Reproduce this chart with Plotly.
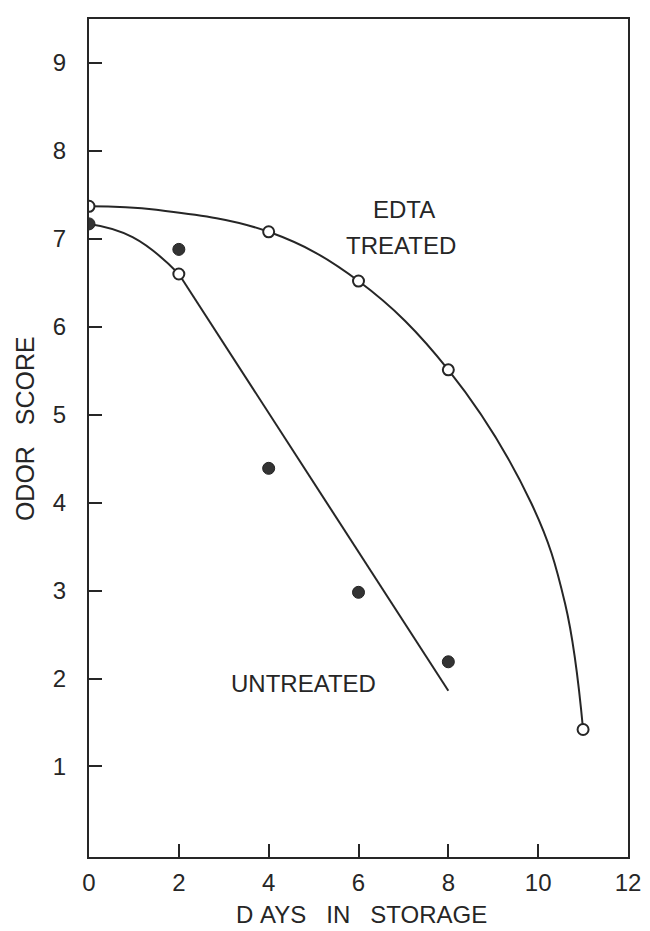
import plotly.graph_objects as go

# ---- data ----
days_points = [0, 2, 4, 6, 8]
untreated_scores = [7.17, 6.88, 4.39, 2.98, 2.19]

edta_days = [0, 2, 4, 6, 8, 11]
edta_scores = [7.37, 6.60, 7.08, 6.52, 5.51, 1.42]

# hand-drawn fitted curves (control points)
edta_curve_days = [0, 1.5, 4, 6, 8, 9.85, 10.6, 11]
edta_curve_scores = [7.37, 7.33, 7.08, 6.52, 5.51, 3.99, 2.85, 1.42]

untreated_curve_days = [0, 0.97, 2]
untreated_curve_scores = [7.17, 7.02, 6.60]
untreated_line_days = [2, 8]
untreated_line_scores = [6.60, 1.86]

x_ticks = [0, 2, 4, 6, 8, 10, 12]
y_ticks = [1, 2, 3, 4, 5, 6, 7, 8, 9]

INK = "#262626"
FONT = "Liberation Sans"

fig = go.Figure()

fig.add_trace(go.Scatter(x=edta_curve_days, y=edta_curve_scores, mode="lines",
                         line=dict(color=INK, width=2, shape="spline", smoothing=1.1),
                         showlegend=False, hoverinfo="skip"))
fig.add_trace(go.Scatter(x=untreated_curve_days, y=untreated_curve_scores, mode="lines",
                         line=dict(color=INK, width=2, shape="spline", smoothing=1.3),
                         showlegend=False, hoverinfo="skip"))
fig.add_trace(go.Scatter(x=untreated_line_days, y=untreated_line_scores, mode="lines",
                         line=dict(color=INK, width=2),
                         showlegend=False, hoverinfo="skip"))

fig.add_trace(go.Scatter(x=days_points, y=untreated_scores, mode="markers",
                         marker=dict(size=12, color="#333333", line=dict(color="#222222", width=1)),
                         name="Untreated", showlegend=False))
fig.add_trace(go.Scatter(x=edta_days, y=edta_scores, mode="markers",
                         marker=dict(size=11, color="white", line=dict(color=INK, width=2)),
                         name="EDTA treated", showlegend=False))

axis_common = dict(showline=True, linecolor=INK, linewidth=2, mirror=True,
                   ticks="inside", ticklen=13, tickwidth=2, tickcolor=INK,
                   showgrid=False, zeroline=False,
                   tickfont=dict(family=FONT, size=24, color=INK))

fig.update_xaxes(range=[0, 12], tickvals=x_ticks, ticktext=[str(v) for v in x_ticks],
                 ticklabelstandoff=3, **axis_common)
fig.update_yaxes(range=[-0.03, 9.5], tickvals=y_ticks, ticktext=[str(v) for v in y_ticks],
                 ticklabelstandoff=16, **axis_common)

fig.add_annotation(text="EDTA", x=7.01, y=7.33, xref="x", yref="y", showarrow=False,
                   font=dict(family=FONT, size=24, color=INK))
fig.add_annotation(text="TREATED", x=6.94, y=6.92, xref="x", yref="y", showarrow=False,
                   font=dict(family=FONT, size=24, color=INK))
fig.add_annotation(text="UNTREATED", x=4.77, y=1.94, xref="x", yref="y", showarrow=False,
                   font=dict(family=FONT, size=24, color=INK))

fig.add_annotation(text="ODOR\u00a0\u00a0\u00a0SCORE", x=-0.12, y=0.511, xref="paper", yref="paper",
                   xanchor="center", yanchor="middle", showarrow=False, textangle=-90,
                   font=dict(family=FONT, size=25, color=INK))
fig.add_annotation(text="D\u00a0AYS\u00a0\u00a0\u00a0IN\u00a0\u00a0\u00a0STORAGE", x=0.505, y=-0.069,
                   xref="paper", yref="paper", xanchor="center", yanchor="middle", showarrow=False,
                   font=dict(family=FONT, size=24, color=INK))

fig.update_layout(width=642, height=923, margin=dict(l=81, r=20, t=9, b=74),
                  paper_bgcolor="white", plot_bgcolor="white")

fig.write_html("out.html")
